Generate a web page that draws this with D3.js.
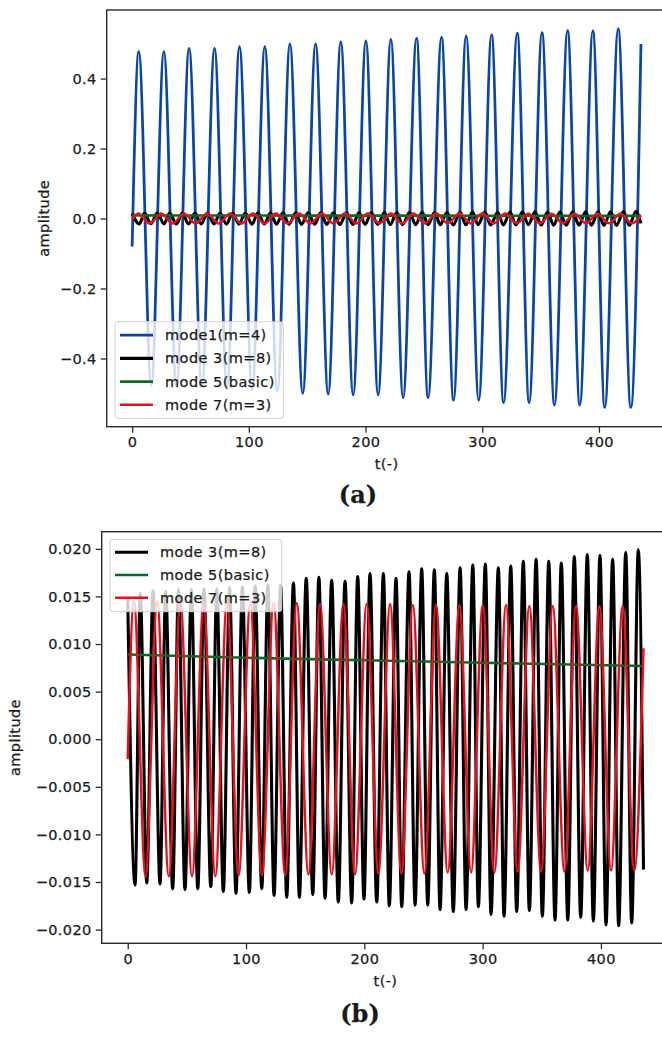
<!DOCTYPE html>
<html>
<head>
<meta charset="utf-8">
<script src="https://cdnjs.cloudflare.com/ajax/libs/d3/7.8.5/d3.min.js"></script>
<style>
  body { margin: 0; background: #fff; }
  text { font-family: "DejaVu Sans", sans-serif; fill: #1a1a1a; stroke: #1a1a1a; stroke-width: 0.25px; }
</style>
</head>
<body>
<svg id="chart" width="662" height="1040"></svg>
<script>
// ---- data (extrema of each oscillation) ----
// mode1 (m=4), only in panel (a)
const mode1Start = [0, -0.08]
const mode1End = [436, 0.499]
const mode1PeakT = [5.7, 27.2, 48.8, 70.6, 92.0, 113.7, 135.2, 157.2, 178.8, 200.3, 221.7, 243.7, 265.1, 286.2, 308.0, 330.0, 351.2, 373.1, 394.8, 416.5]
const mode1PeakV = [0.477, 0.477, 0.486, 0.486, 0.491, 0.491, 0.499, 0.499, 0.505, 0.508, 0.512, 0.515, 0.518, 0.522, 0.525, 0.530, 0.531, 0.537, 0.536, 0.542]
const mode1TroughT = [16.4, 38.0, 59.7, 81.3, 102.8, 124.4, 146.2, 168.0, 189.4, 210.8, 232.2, 253.6, 275.4, 297.0, 318.3, 340.2, 361.9, 383.6, 405.0, 427.3]
const mode1TroughV = [-0.476, -0.480, -0.482, -0.486, -0.490, -0.494, -0.500, -0.502, -0.504, -0.504, -0.512, -0.512, -0.519, -0.519, -0.526, -0.526, -0.533, -0.533, -0.540, -0.540]

// mode 3 (m=8)
const mode3Start = [0, 0.0148]
const mode3End = [436, -0.0137]
const mode3PeakT = [10.6, 21.4, 32.1, 42.9, 53.8, 64.5, 75.3, 86.1, 96.9, 107.7, 118.5, 129.2, 140.1, 150.9, 161.6, 172.4, 183.7, 194.4, 204.8, 216.1, 226.8, 237.8, 248.5, 259.2, 269.7, 281.0, 291.7, 302.3, 313.3, 323.8, 334.4, 345.2, 355.9, 366.5, 377.5, 388.5, 399.2, 409.9, 421.0, 431.6]
const mode3PeakV = [0.0153, 0.0156, 0.0155, 0.0157, 0.0157, 0.0158, 0.0158, 0.0159, 0.0160, 0.0161, 0.0162, 0.0162, 0.0164, 0.0169, 0.0170, 0.0167, 0.0166, 0.0171, 0.0174, 0.0174, 0.0169, 0.0176, 0.0179, 0.0178, 0.0174, 0.0180, 0.0183, 0.0184, 0.0180, 0.0182, 0.0187, 0.0189, 0.0187, 0.0185, 0.0192, 0.0194, 0.0193, 0.0189, 0.0196, 0.0199]
const mode3TroughT = [6.2, 16.1, 27.3, 38.0, 48.4, 59.2, 70.2, 80.8, 91.5, 102.8, 113.3, 123.7, 134.4, 145.1, 156.4, 166.8, 178.0, 189.3, 199.7, 210.5, 221.1, 231.6, 242.9, 253.6, 264.0, 275.2, 286.0, 296.4, 307.1, 318.1, 328.8, 339.5, 350.5, 361.2, 372.0, 382.9, 393.6, 404.3, 415.0, 426.0]
const mode3TroughV = [-0.0153, -0.0151, -0.0152, -0.0157, -0.0158, -0.0157, -0.0155, -0.0160, -0.0162, -0.0161, -0.0157, -0.0164, -0.0166, -0.0166, -0.0163, -0.0167, -0.0171, -0.0172, -0.0168, -0.0171, -0.0175, -0.0176, -0.0174, -0.0174, -0.0179, -0.0181, -0.0179, -0.0176, -0.0184, -0.0186, -0.0181, -0.0180, -0.0186, -0.0190, -0.0190, -0.0187, -0.0191, -0.0195, -0.0196, -0.0193]

// mode 5 (basic), slowly drifting
const mode5T = [0, 100, 200, 300, 436]
const mode5V = [0.0089, 0.00856, 0.00829, 0.00803, 0.00769]

// mode 7 (m=3)
const mode7Start = [0, -0.0021]
const mode7End = [436, 0.00955]
const mode7PeakT = [5.2, 24.9, 44.5, 64.2, 83.9, 103.6, 123.3, 142.9, 162.6, 182.3, 202.0, 221.8, 241.0, 260.6, 280.4, 300.1, 319.8, 339.5, 359.3, 379.0, 398.7, 418.4]
const mode7PeakV = [0.0145, 0.0145, 0.0144, 0.0144, 0.0144, 0.0143, 0.0143, 0.0143, 0.0142, 0.0142, 0.0142, 0.0142, 0.0141, 0.0141, 0.0141, 0.0141, 0.0141, 0.0140, 0.0140, 0.0140, 0.0140, 0.0140]
const mode7TroughT = [15.05, 34.7, 54.35, 74.05, 93.75, 113.45, 133.1, 152.75, 172.45, 192.15, 211.9, 231.4, 250.8, 270.5, 290.25, 309.95, 329.65, 349.4, 369.15, 388.85, 408.55, 428.2]
const mode7TroughV = [-0.0144, -0.0144, -0.0144, -0.0144, -0.0143, -0.0143, -0.0143, -0.0142, -0.0142, -0.0142, -0.0141, -0.0141, -0.0141, -0.0140, -0.0140, -0.0140, -0.0139, -0.0139, -0.0139, -0.0138, -0.0138, -0.0138]

// tick labels
const xTicks = [0, 100, 200, 300, 400]
const yTicksA = [-0.4, -0.2, 0.0, 0.2, 0.4]
const yTicksB = [-0.020, -0.015, -0.010, -0.005, 0.000, 0.005, 0.010, 0.015, 0.020]

// 把峰值/谷值合併成依時間排序的點
function buildSeries(start, peakT, peakV, troughT, troughV, end) {
    const pts = [start]
    peakT.forEach((t, i) => pts.push([t, peakV[i]]))
    troughT.forEach((t, i) => pts.push([t, troughV[i]]))
    pts.push(end)
    return pts.sort((a, b) => a[0] - b[0])
}

const mode1 = { name: 'mode1(m=4)', color: '#0b46a0', width: 2.8,
    values: buildSeries(mode1Start, mode1PeakT, mode1PeakV, mode1TroughT, mode1TroughV, mode1End) }
const mode3 = { name: 'mode 3(m=8)', color: '#000000', width: 3.1,
    values: buildSeries(mode3Start, mode3PeakT, mode3PeakV, mode3TroughT, mode3TroughV, mode3End) }
const mode5 = { name: 'mode 5(basic)', color: '#0a6a25', width: 2.6,
    values: mode5T.map((t, i) => [t, mode5V[i]]) }
const mode7 = { name: 'mode 7(m=3)', color: '#e8101a', width: 2.5,
    values: buildSeries(mode7Start, mode7PeakT, mode7PeakV, mode7TroughT, mode7TroughV, mode7End) }

const svg = d3.select('#chart')

function drawPanel(cfg) {
    const xScale = d3.scaleLinear().domain(cfg.xDomain).range([cfg.left, cfg.right])
    const yScale = d3.scaleLinear().domain(cfg.yDomain).range([cfg.bottom, cfg.top])
    const g = svg.append('g')

    const clipId = 'clip-' + cfg.id
    g.append('clipPath').attr('id', clipId).append('rect')
        .attr('x', cfg.left).attr('y', cfg.top)
        .attr('width', cfg.right - cfg.left).attr('height', cfg.bottom - cfg.top)

    const lineGen = d3.line().x(d => xScale(d[0])).y(d => yScale(d[1])).curve(d3.curveMonotoneX)
    g.append('g').attr('clip-path', `url(#${clipId})`)
        .selectAll('path').data(cfg.series).enter().append('path')
        .attr('d', d => lineGen(d.values))
        .style('fill', 'none')
        .style('stroke', d => d.color)
        .style('stroke-width', d => d.width)
        .style('stroke-linejoin', 'round')

    // 軸
    const xAxis = d3.axisBottom(xScale).tickValues(xTicks).tickFormat(d3.format('d'))
        .tickSizeInner(6).tickSizeOuter(0).tickPadding(4)
    const xAxisDraw = g.append('g').attr('transform', `translate(0,${cfg.bottom})`).call(xAxis)
    const yAxis = d3.axisLeft(yScale).tickValues(cfg.yTicks).tickFormat(d3.format(cfg.yFormat))
        .tickSizeInner(6).tickSizeOuter(0).tickPadding(4)
    const yAxisDraw = g.append('g').attr('transform', `translate(${cfg.left},0)`).call(yAxis)

    ;[xAxisDraw, yAxisDraw].forEach(a => {
        a.select('.domain').remove()
        a.selectAll('line').style('stroke', '#2a2a2a').style('stroke-width', 1.3)
        a.selectAll('text').style('font-size', '14.5px').style('letter-spacing', '0.4px')
            .style('font-family', '"DejaVu Sans", sans-serif').style('fill', '#1a1a1a')
    })

    // 外框
    g.append('rect')
        .attr('x', cfg.left).attr('y', cfg.top)
        .attr('width', cfg.right - cfg.left).attr('height', cfg.bottom - cfg.top)
        .style('fill', 'none').style('stroke', '#2a2a2a').style('stroke-width', 1.4)

    // 軸標題
    g.append('text').text('t(-)')
        .attr('x', (cfg.left + cfg.right) / 2).attr('y', cfg.xLabelY)
        .style('text-anchor', 'middle').style('font-size', '14.5px').style('letter-spacing', '0.4px')
    g.append('text').text('amplitude')
        .attr('transform', `translate(${cfg.yLabelX},${(cfg.top + cfg.bottom) / 2}) rotate(-90)`)
        .style('text-anchor', 'middle').style('font-size', '14.5px').style('letter-spacing', '0.4px')

    // 圖例
    const lg = cfg.legend
    const legend = g.append('g')
    legend.append('rect')
        .attr('x', lg.x).attr('y', lg.y).attr('width', lg.w).attr('height', lg.h)
        .attr('rx', 3)
        .style('fill', 'rgba(255,255,255,0.8)').style('stroke', '#cfcfcf').style('stroke-width', 1)
    const rows = legend.selectAll('.row').data(cfg.series).enter().append('g')
        .attr('transform', (d, i) => `translate(0,${lg.y + lg.firstRow + i * lg.step})`)
    rows.append('line')
        .attr('x1', lg.x + 5).attr('x2', lg.x + 38)
        .style('stroke', d => d.color).style('stroke-width', d => d.width)
    rows.append('text').text(d => d.name)
        .attr('x', lg.x + 50).attr('y', 0)
        .style('dominant-baseline', 'central')
        .style('font-size', '14.5px').style('letter-spacing', '0.45px')

    // (a) / (b)
    g.append('text').text(cfg.caption)
        .attr('x', cfg.captionX).attr('y', cfg.captionY)
        .style('text-anchor', 'middle')
        .style('font-family', '"DejaVu Serif", serif').style('font-weight', 'bold')
        .style('font-size', '24px')
}

drawPanel({
    id: 'a', caption: '(a)', captionX: 358, captionY: 503,
    left: 106.7, right: 666.4, top: 10, bottom: 426.7,
    xDomain: [-21.8, 457.8], yDomain: [-0.595, 0.596],
    yTicks: yTicksA, yFormat: '.1f',
    xLabelY: 469, yLabelX: 49,
    series: [mode1, mode3, mode5, mode7],
    legend: { x: 115, y: 321.7, w: 168.3, h: 96.6, firstRow: 13.5, step: 23.2 }
})

drawPanel({
    id: 'b', caption: '(b)', captionX: 360, captionY: 1022,
    left: 101.7, right: 669.3, top: 531.7, bottom: 943.3,
    xDomain: [-22, 457.8], yDomain: [-0.02144, 0.0218],
    yTicks: yTicksB, yFormat: '.3f',
    xLabelY: 986, yLabelX: 20,
    series: [mode3, mode5, mode7],
    legend: { x: 110, y: 539.3, w: 171.7, h: 72.4, firstRow: 13, step: 22.7 }
})
</script>
</body>
</html>
